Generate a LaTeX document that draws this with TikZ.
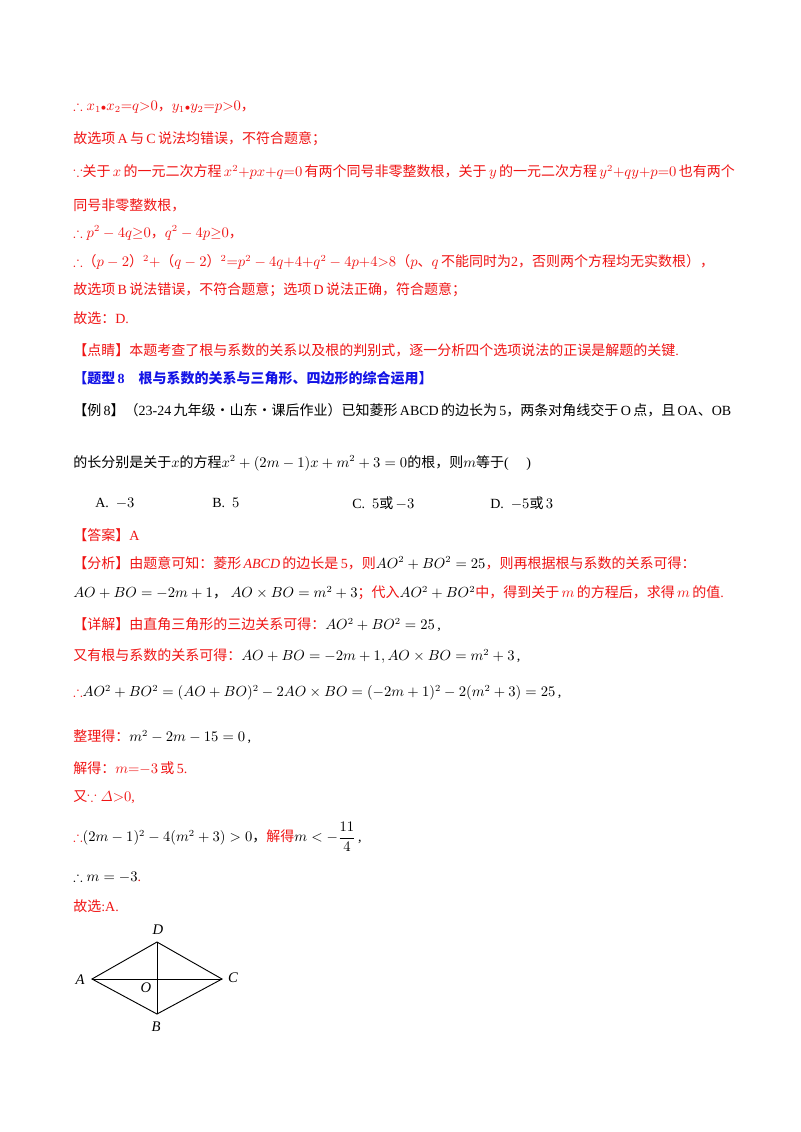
\documentclass[tikz,border=0pt]{standalone}
\usepackage{amsmath,amssymb}
\usepackage{fontspec}
\setmainfont{Liberation Serif}
\newfontfamily\cjk{Noto Sans CJK SC}
\newcommand{\zh}[1]{{\cjk #1}}
\definecolor{rd}{RGB}{240,20,20}
\definecolor{bl}{RGB}{20,20,230}
\begin{document}
\begin{tikzpicture}[x=0.75pt,y=-0.75pt,
  ln/.style={anchor=west,inner sep=0pt,font=\fontsize{10.5}{12}\selectfont},
  lbl/.style={font=\itshape\fontsize{11}{12}\selectfont,inner sep=1pt},
  edge/.style={line width=0.7pt}]
\useasboundingbox[fill=white] (0,0) rectangle (800,1132);
\node[ln,text=rd] (l1) at (73,107) {$\therefore x_1{\scriptstyle\bullet}x_2{=}q{>}0$\zh{，}$y_1{\scriptstyle\bullet}y_2{=}p{>}0$\zh{，}};
\node[ln,text=rd] (l2) at (73,139) {\zh{故选项}\,A\,\zh{与}\,C\,\zh{说法均错误，不符合题意；}};
\node[ln,text=rd] (l3) at (73,172) {$\because$\zh{关于}\,$x$\,\zh{的一元二次方程}\,$x^2{+}px{+}q{=}0$\,\zh{有两个同号非零整数根，关于}\,$y$\,\zh{的一元二次方程}\,$y^2{+}qy{+}p{=}0$\,\zh{也有两个}};
\node[ln,text=rd] (l4) at (73,205) {\zh{同号非零整数根，}};
\node[ln,text=rd] (l5) at (73,233) {$\therefore p^2-4q{\geq}0$\zh{，}$q^2-4p{\geq}0$\zh{，}};
\node[ln,text=rd] (l6) at (73,262) {$\therefore$\zh{（}$p-2$\zh{）}${}^2{+}$\zh{（}$q-2$\zh{）}${}^2{=}p^2-4q{+}4{+}q^2-4p{+}4{>}8$\zh{（}$p$\zh{、}$q$\,\zh{不能同时为}2\zh{，否则两个方程均无实数根），}};
\node[ln,text=rd] (l7) at (73,290) {\zh{故选项}\,B\,\zh{说法错误，不符合题意；选项}\,D\,\zh{说法正确，符合题意；}};
\node[ln,text=rd] (l8) at (73,318) {\zh{故选：}D.};
\node[ln,text=rd] (l9) at (73,350) {\zh{【点睛】本题考查了根与系数的关系以及根的判别式，逐一分析四个选项说法的正误是解题的关键}.};
\node[ln,text=bl,font=\bfseries\fontsize{10.5}{12}\selectfont] (l10) at (73,378) {\zh{【题型}\,8\quad\zh{根与系数的关系与三角形、四边形的综合运用】}};
\node[ln] (l11) at (73,410) {\zh{【例}\,8\zh{】（}23-24\,\zh{九年级·山东·课后作业）已知菱形}\,ABCD\,\zh{的边长为}\,5\zh{，两条对角线交于}\,O\,\zh{点，且}\,OA\zh{、}OB};
\node[ln] (l12) at (73,463) {\zh{的长分别是关于}$x$\zh{的方程}$x^2+(2m-1)x+m^2+3=0$\zh{的根，则}$m$\zh{等于}(\quad\ )};
\node[ln] (oA) at (95,503) {A.\ \ $-3$};
\node[ln] (oB) at (212,503) {B.\ \ $5$};
\node[ln] (oC) at (352,503) {C.\ \ $5$\zh{或}\,$-3$};
\node[ln] (oD) at (490,503) {D.\ \ $-5$\zh{或}\,$3$};
\node[ln,text=rd] (l13) at (73,535) {\zh{【答案】}A};
\node[ln,text=rd] (l14) at (73,563) {\zh{【分析】由题意可知：菱形}\,\textit{ABCD}\,\zh{的边长是}\,5\zh{，则}\textcolor{black}{$AO^2+BO^2=25$}\zh{，则再根据根与系数的关系可得：}};
\node[ln,text=rd] (l15) at (73,593) {\textcolor{black}{$AO+BO=-2m+1$\zh{，}\ $AO\times BO=m^2+3$}\zh{；代入}\textcolor{black}{$AO^2+BO^2$}\zh{中，得到关于}\,$m$\,\zh{的方程后，求得}\,$m$\,\zh{的值}.};
\node[ln,text=rd] (l16) at (73,625) {\zh{【详解】由直角三角形的三边关系可得：}\textcolor{black}{$AO^2+BO^2=25$\,,}};
\node[ln,text=rd] (l17) at (73,656) {\zh{又有根与系数的关系可得：}\textcolor{black}{$AO+BO=-2m+1, AO\times BO=m^2+3$\,,}};
\node[ln] (l18) at (73,693) {\textcolor{rd}{$\therefore$}$AO^2+BO^2=(AO+BO)^2-2AO\times BO=(-2m+1)^2-2(m^2+3)=25$\,,};
\node[ln] (l19) at (73,737) {\textcolor{rd}{\zh{整理得：}}$m^2-2m-15=0$\,,};
\node[ln,text=rd] (l20) at (73,768) {\zh{解得：}$m{=}{-}3$\,\zh{或}\,5.};
\node[ln,text=rd] (l21) at (73,797) {\zh{又}$\because\varDelta{>}0$,};
\node[ln] (l22) at (73,837) {\textcolor{rd}{$\therefore$}$(2m-1)^2-4(m^2+3)>0$\zh{，}\textcolor{rd}{\zh{解得}}$m<-\dfrac{11}{4}$\,,};
\node[ln] (l23) at (73,877) {$\therefore m=-3$\textcolor{rd}{.}};
\node[ln,text=rd] (l24) at (73,906) {\zh{故选}:A.};
\coordinate (A) at (92,979);
\coordinate (C) at (222,979);
\coordinate (D) at (157,942);
\coordinate (B) at (157,1014);
\draw[edge] (A) -- (D) -- (C) -- (B) -- cycle;
\draw[edge] (A) -- (C) (D) -- (B);
\node[lbl] (tA) at (80,980) {A};
\node[lbl] (tC) at (233,978) {C};
\node[lbl] (tD) at (158,930) {D};
\node[lbl] (tB) at (156,1027) {B};
\node[lbl] (tO) at (146,988) {O};
\end{tikzpicture}
\end{document}
